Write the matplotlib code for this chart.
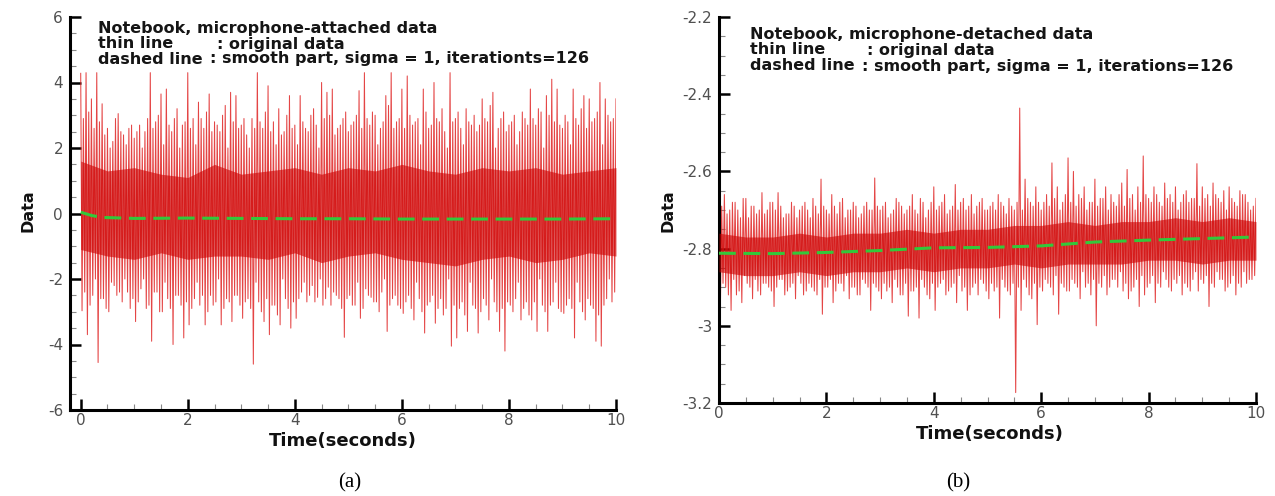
import numpy as np
import matplotlib
matplotlib.use("Agg")
import matplotlib.pyplot as plt
from matplotlib.ticker import MultipleLocator, FuncFormatter

plt.rcParams['axes.unicode_minus'] = False

# ---------------- data ----------------
# upper peaks at t = 0.00, 0.05, ..., 10.00 ; lower peaks at t = 0.025, 0.075, ..., 9.975
up_a = [4.28, 2.90, 4.30, 3.10, 3.50, 2.60, 4.30, 2.80, 3.35, 2.40, 2.60, 2.00, 2.20, 2.90, 3.05, 2.50, 2.40, 2.10, 2.60, 2.70,
        2.30, 2.50, 2.70, 2.00, 2.50, 2.90, 4.30, 2.60, 2.80, 3.00, 3.65, 2.10, 3.80, 2.70, 2.50, 2.90, 3.20, 2.00, 2.70, 2.80,
        4.30, 2.60, 2.90, 2.10, 3.40, 2.90, 2.60, 3.10, 3.65, 2.50, 2.80, 2.70, 2.50, 3.00, 3.30, 2.00, 3.70, 2.80, 3.60, 2.60,
        2.70, 2.90, 2.40, 2.00, 2.90, 2.60, 4.30, 2.80, 2.60, 3.10, 3.90, 2.50, 2.80, 2.10, 3.20, 2.40, 2.50, 3.00, 3.60, 2.60,
        2.70, 2.10, 3.60, 2.80, 2.60, 2.50, 3.00, 3.20, 2.70, 2.00, 4.00, 2.90, 3.70, 3.00, 3.80, 2.40, 2.60, 2.70, 2.90, 3.10,
        2.50, 2.70, 2.80, 3.00, 3.75, 2.60, 4.30, 2.90, 2.70, 3.10, 3.00, 2.10, 2.60, 2.80, 3.60, 3.30, 4.30, 2.60, 2.80, 2.90,
        3.80, 2.60, 4.20, 3.00, 2.70, 2.80, 2.90, 2.10, 3.80, 3.10, 2.60, 2.70, 4.00, 2.90, 2.80, 3.20, 2.50, 2.00, 4.30, 2.80,
        2.90, 3.10, 2.60, 2.10, 3.20, 2.80, 2.70, 3.00, 2.50, 2.70, 3.50, 2.90, 2.80, 3.30, 3.70, 2.00, 2.60, 2.90, 3.10, 2.50,
        2.70, 2.80, 3.00, 2.10, 2.50, 3.10, 2.90, 2.70, 3.80, 2.90, 2.70, 3.20, 3.10, 2.00, 3.60, 3.00, 4.10, 2.80, 3.80, 2.70,
        2.60, 3.00, 2.80, 2.10, 3.80, 2.90, 2.70, 3.20, 3.60, 2.60, 3.50, 2.80, 2.90, 3.10, 4.00, 2.10, 3.50, 3.00, 2.80, 2.90,
        3.50]
low_a = [-2.97, -2.40, -3.70, -2.80, -2.50, -2.00, -4.55, -2.60, -2.60, -2.90, -3.00, -2.10, -2.20, -2.50, -2.40, -2.70, -2.00, -2.40, -2.90, -2.60,
         -3.30, -2.70, -2.30, -2.00, -2.90, -2.80, -3.90, -2.40, -2.40, -3.00, -3.00, -2.10, -2.60, -2.90, -4.00, -2.50, -2.50, -2.80, -3.80, -2.70,
         -3.40, -2.90, -2.60, -2.10, -2.80, -2.50, -3.40, -3.00, -2.50, -2.80, -2.70, -2.00, -3.40, -2.90, -2.60, -2.70, -3.30, -2.50, -2.50, -2.80,
         -3.20, -2.70, -2.60, -2.90, -4.60, -2.10, -2.70, -3.00, -3.30, -2.60, -3.70, -2.80, -2.80, -3.10, -3.40, -2.00, -2.60, -2.90, -3.50, -2.70,
         -3.20, -2.60, -2.40, -2.10, -2.70, -2.50, -2.20, -2.70, -2.56, -2.00, -2.80, -2.60, -2.25, -2.80, -2.40, -2.50, -2.60, -2.90, -3.78, -2.60,
         -2.50, -2.80, -2.80, -2.10, -3.20, -2.90, -2.30, -2.50, -2.56, -2.70, -2.70, -3.00, -2.40, -2.00, -3.60, -2.80, -2.60, -2.50, -2.80, -2.90,
         -3.05, -2.70, -2.50, -2.90, -3.25, -2.10, -2.60, -3.00, -3.65, -2.80, -2.70, -2.50, -3.35, -2.90, -2.60, -3.10, -2.90, -2.00, -4.05, -2.80,
         -3.80, -2.90, -2.70, -3.10, -3.60, -2.10, -2.80, -2.90, -3.65, -3.00, -2.60, -2.80, -3.25, -2.00, -2.70, -3.00, -3.60, -2.90, -4.20, -2.70,
         -2.80, -3.00, -2.60, -2.10, -3.25, -2.90, -2.70, -3.10, -3.25, -2.70, -3.60, -2.00, -2.80, -3.00, -3.60, -2.80, -2.70, -2.10, -2.90, -3.00,
         -3.05, -2.80, -2.60, -2.90, -3.80, -2.10, -2.70, -3.00, -3.25, -2.60, -2.80, -2.90, -3.90, -3.10, -4.05, -2.80, -2.60, -2.00, -2.70, -2.40]
# dense dark core band at t = 0, 0.5, ..., 10
core_hi_a = [1.6, 1.3, 1.4, 1.2, 1.1, 1.5, 1.2, 1.3, 1.4, 1.2, 1.4,
             1.3, 1.5, 1.3, 1.2, 1.4, 1.3, 1.4, 1.2, 1.3, 1.4]
core_lo_a = [-1.1, -1.3, -1.4, -1.2, -1.4, -1.3, -1.3, -1.4, -1.2, -1.5, -1.3,
             -1.2, -1.4, -1.5, -1.6, -1.4, -1.3, -1.5, -1.4, -1.2, -1.3]
smooth_t_a = [0.0, 0.2, 0.4, 1, 2, 3, 4, 5, 6, 7, 8, 9, 10]
smooth_a = [0.04, -0.06, -0.12, -0.15, -0.14, -0.15, -0.16, -0.16, -0.17,
            -0.17, -0.17, -0.17, -0.16]

up_b = [-2.630, -2.690, -2.660, -2.710, -2.700, -2.680, -2.680, -2.700, -2.720, -2.670, -2.670, -2.720, -2.690, -2.690, -2.710, -2.700, -2.655, -2.710, -2.700, -2.680,
        -2.680, -2.700, -2.655, -2.690, -2.720, -2.710, -2.710, -2.680, -2.690, -2.720, -2.700, -2.690, -2.680, -2.700, -2.720, -2.670, -2.690, -2.710, -2.620, -2.690,
        -2.700, -2.710, -2.660, -2.690, -2.710, -2.680, -2.670, -2.720, -2.700, -2.700, -2.680, -2.690, -2.720, -2.710, -2.690, -2.680, -2.700, -2.700, -2.617, -2.690,
        -2.700, -2.690, -2.680, -2.720, -2.710, -2.700, -2.670, -2.680, -2.690, -2.710, -2.700, -2.690, -2.660, -2.700, -2.710, -2.670, -2.680, -2.720, -2.700, -2.680,
        -2.640, -2.700, -2.690, -2.680, -2.660, -2.710, -2.700, -2.690, -2.634, -2.700, -2.680, -2.670, -2.700, -2.690, -2.660, -2.710, -2.690, -2.680, -2.670, -2.700,
        -2.700, -2.690, -2.680, -2.700, -2.660, -2.680, -2.690, -2.710, -2.670, -2.690, -2.700, -2.680, -2.436, -2.700, -2.620, -2.670, -2.680, -2.690, -2.640, -2.680,
        -2.700, -2.680, -2.660, -2.690, -2.578, -2.670, -2.640, -2.700, -2.680, -2.660, -2.565, -2.680, -2.600, -2.690, -2.660, -2.670, -2.640, -2.700, -2.680, -2.680,
        -2.620, -2.690, -2.670, -2.670, -2.640, -2.700, -2.660, -2.680, -2.690, -2.660, -2.630, -2.690, -2.595, -2.670, -2.660, -2.700, -2.640, -2.680, -2.560, -2.660,
        -2.670, -2.680, -2.640, -2.660, -2.680, -2.690, -2.630, -2.670, -2.660, -2.680, -2.640, -2.700, -2.680, -2.660, -2.650, -2.680, -2.670, -2.670, -2.580, -2.690,
        -2.640, -2.670, -2.660, -2.690, -2.630, -2.660, -2.670, -2.680, -2.650, -2.700, -2.640, -2.670, -2.680, -2.690, -2.650, -2.660, -2.660, -2.680, -2.700, -2.690,
        -2.670]
low_b = [-2.958, -2.890, -2.900, -2.920, -2.960, -2.880, -2.920, -2.910, -2.940, -2.870, -2.890, -2.900, -2.930, -2.880, -2.910, -2.920, -2.890, -2.890, -2.900, -2.910,
         -2.950, -2.900, -2.880, -2.880, -2.920, -2.910, -2.900, -2.890, -2.930, -2.870, -2.890, -2.920, -2.910, -2.890, -2.900, -2.910, -2.920, -2.880, -2.970, -2.900,
         -2.900, -2.880, -2.940, -2.910, -2.890, -2.890, -2.910, -2.870, -2.930, -2.900, -2.900, -2.920, -2.920, -2.880, -2.890, -2.900, -2.960, -2.890, -2.900, -2.910,
         -2.930, -2.890, -2.910, -2.900, -2.940, -2.880, -2.900, -2.920, -2.920, -2.890, -2.975, -2.910, -2.910, -2.900, -2.980, -2.880, -2.900, -2.920, -2.930, -2.890,
         -2.960, -2.900, -2.890, -2.880, -2.920, -2.910, -2.900, -2.890, -2.940, -2.870, -2.910, -2.900, -2.960, -2.920, -2.900, -2.890, -2.920, -2.880, -2.890, -2.910,
         -2.930, -2.890, -2.910, -2.900, -2.980, -2.880, -2.900, -2.910, -2.920, -2.890, -3.173, -2.900, -2.960, -2.880, -2.900, -2.920, -2.930, -2.890, -2.997, -2.900,
         -2.910, -2.880, -2.890, -2.900, -2.920, -2.870, -2.970, -2.890, -2.900, -2.910, -2.910, -2.880, -2.890, -2.900, -2.930, -2.860, -2.900, -2.890, -2.920, -2.880,
         -3.000, -2.890, -2.900, -2.870, -2.920, -2.900, -2.880, -2.880, -2.900, -2.860, -2.910, -2.890, -2.930, -2.910, -2.900, -2.880, -2.950, -2.870, -2.920, -2.900,
         -2.890, -2.870, -2.940, -2.890, -2.900, -2.860, -2.880, -2.900, -2.910, -2.880, -2.890, -2.870, -2.920, -2.890, -2.900, -2.910, -2.880, -2.860, -2.910, -2.880,
         -2.890, -2.870, -2.950, -2.890, -2.900, -2.860, -2.880, -2.880, -2.910, -2.900, -2.890, -2.870, -2.920, -2.890, -2.900, -2.860, -2.890, -2.880, -2.880, -2.870]
core_hi_b = [-2.76, -2.77, -2.77, -2.76, -2.77, -2.76, -2.76, -2.75, -2.76, -2.75, -2.75,
             -2.74, -2.74, -2.73, -2.74, -2.73, -2.73, -2.72, -2.73, -2.72, -2.73]
core_lo_b = [-2.86, -2.87, -2.87, -2.86, -2.87, -2.86, -2.86, -2.85, -2.86, -2.85, -2.85,
             -2.84, -2.85, -2.84, -2.84, -2.84, -2.83, -2.83, -2.84, -2.83, -2.83]
smooth_t_b = [0, 1, 2, 3, 4, 5, 6, 7, 8, 9, 10]
smooth_b = [-2.812, -2.813, -2.810, -2.805, -2.798, -2.797, -2.793, -2.783,
            -2.778, -2.774, -2.770]

ann_a = ["Notebook, microphone-attached data", "thin line", ": original data",
         "dashed line", ": smooth part, sigma = 1, iterationts=126"]
ann_b = ["Notebook, microphone-detached data", "thin line", ": original data",
         "dashed line", ": smooth part, sigma = 1, iterations=126"]

# ---------------- figure ----------------
W, H = 1275, 496
fig = plt.figure(figsize=(W / 100, H / 100), dpi=100)


def fx(px):
    return px / W


def fy(py):
    return 1 - py / H


axA = fig.add_axes([fx(70), fy(410), (616 - 70) / W, (410 - 17) / H])
axB = fig.add_axes([fx(719), fy(403), (1256 - 719) / W, (403 - 17) / H])

RED_CORE = '#cc0000'
RED_LINE = '#e02424'
GREEN = '#33c83a'


def draw(ax, up, low, chi, clo, st, sm):
    up = np.asarray(up)
    low = np.asarray(low)
    t_up = np.linspace(0, 10, len(up))
    t_lo = np.linspace(0.025, 9.975, len(low))
    t = np.empty(len(up) + len(low))
    y = np.empty_like(t)
    t[0::2] = t_up
    t[1::2] = t_lo
    y[0::2] = up
    y[1::2] = low
    tc = np.linspace(0, 10, len(chi))
    ax.plot(t, y, color=RED_LINE, lw=0.75, alpha=0.85, zorder=2)
    ax.fill_between(tc, clo, chi, color=RED_CORE, lw=0, alpha=0.6, zorder=3)
    ax.plot(st, sm, color=GREEN, lw=2.2, dashes=(5.5, 2.5), zorder=5)


draw(axA, up_a, low_a, core_hi_a, core_lo_a, smooth_t_a, smooth_a)
draw(axB, up_b, low_b, core_hi_b, core_lo_b, smooth_t_b, smooth_b)

fmt = FuncFormatter(lambda v, p: f"{v:g}")
for ax in (axA, axB):
    for s in ('top', 'right'):
        ax.spines[s].set_visible(False)
    for s in ('left', 'bottom'):
        ax.spines[s].set_linewidth(2.2)
    ax.tick_params(which='major', direction='in', length=8, width=1.8,
                   labelsize=11, labelcolor='#505050')
    ax.tick_params(axis='y', which='major', pad=5)
    ax.tick_params(axis='x', which='major', pad=2)
    ax.tick_params(which='minor', direction='in', length=4, width=0.8,
                   color='#888888')
    ax.xaxis.set_major_locator(MultipleLocator(2))
    ax.xaxis.set_minor_locator(MultipleLocator(0.5))
    ax.xaxis.set_major_formatter(fmt)
    ax.yaxis.set_major_formatter(fmt)
    ax.set_xlabel("Time(seconds)", fontsize=13, fontweight='bold', color='#111111')
    ax.set_ylabel("Data", fontsize=11.5, fontweight='bold', color='#111111')

axA.set_xlim(-0.2, 10)
axA.set_ylim(-6, 6)
axA.yaxis.set_major_locator(MultipleLocator(2))
axA.yaxis.set_minor_locator(MultipleLocator(0.5))
axB.set_xlim(0, 10)
axB.set_ylim(-3.2, -2.2)
axB.yaxis.set_major_locator(MultipleLocator(0.2))
axB.yaxis.set_minor_locator(MultipleLocator(0.05))

axA.xaxis.set_label_coords(0.5, -0.078)
axA.yaxis.set_label_coords(-0.077, 0.506)
axB.xaxis.set_label_coords(0.505, -0.08)
axB.yaxis.set_label_coords(-0.095, 0.497)
for ax in (axA, axB):
    ax.xaxis.label.set_va('center')
    ax.yaxis.label.set_va('center')

# annotation blocks
tk = dict(fontsize=11.5, fontweight='bold', color='#151515', va='center', ha='left')
for ann, x0, xc2, xc3, ys in ((ann_a, 98, 217, 210, (28, 44, 59)),
                              (ann_b, 750, 867, 862, (34, 50, 66))):
    fig.text(fx(x0), fy(ys[0]), ann[0], **tk)
    fig.text(fx(x0), fy(ys[1]), ann[1], **tk)
    fig.text(fx(xc2), fy(ys[1]), ann[2], **tk)
    fig.text(fx(x0), fy(ys[2]), ann[3], **tk)
    fig.text(fx(xc3), fy(ys[2]), ann[4], **tk)

cap = dict(fontsize=15, family='Liberation Serif', ha='center', va='center', color='black')
fig.text(fx(350), fy(483), "(a)", **cap)
fig.text(fx(958), fy(483), "(b)", **cap)

fig.savefig("out.png", dpi=100)
